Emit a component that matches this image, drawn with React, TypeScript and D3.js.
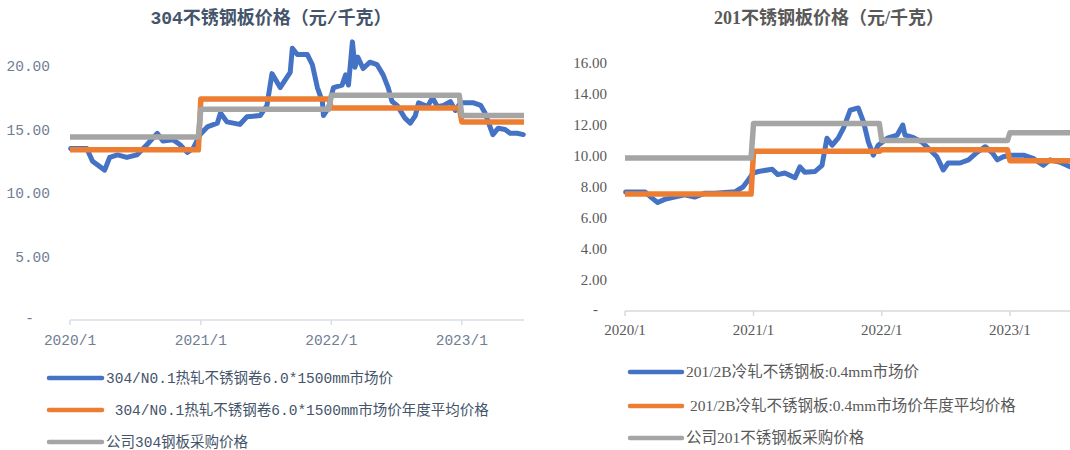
import React from 'react';
import * as d3 from 'd3';

// ---- data ----
const yearLabels = ['2020/1', '2021/1', '2022/1', '2023/1'];
const avgYears = [2020, 2021, 2022, 2023];

// 304 market price (元/千克)
const dates304 = [
  '2020-01-03', '2020-02-17', '2020-03-04', '2020-04-07', '2020-04-21', '2020-05-13', '2020-06-08',
  '2020-07-06', '2020-08-03', '2020-09-01', '2020-09-17', '2020-10-15', '2020-11-04', '2020-11-24',
  '2020-12-10', '2020-12-30', '2021-01-19', '2021-02-16', '2021-02-25', '2021-03-15', '2021-04-20',
  '2021-05-10', '2021-06-16', '2021-07-05', '2021-07-19', '2021-08-11', '2021-08-25', '2021-09-08',
  '2021-09-14', '2021-09-28', '2021-10-26', '2021-11-09', '2021-11-23', '2021-12-07', '2021-12-10',
  '2021-12-24', '2022-01-07', '2022-01-31', '2022-02-10', '2022-02-18', '2022-03-01', '2022-03-08',
  '2022-03-16', '2022-03-31', '2022-04-19', '2022-05-09', '2022-05-26', '2022-06-09', '2022-06-20',
  '2022-07-04', '2022-07-26', '2022-08-10', '2022-08-24', '2022-09-02', '2022-09-27', '2022-10-11',
  '2022-10-25', '2022-11-11', '2022-11-30', '2022-12-14', '2022-12-28', '2023-02-03', '2023-02-23',
  '2023-03-07', '2023-03-21', '2023-03-29', '2023-04-13', '2023-05-02', '2023-05-16', '2023-06-05',
  '2023-06-22',
];
const market304 = [
  13.5, 13.5, 12.5, 11.8, 12.8, 13.0, 12.8,
  13.0, 13.8, 14.7, 14.1, 14.2, 13.8, 13.2,
  13.5, 14.6, 15.2, 15.5, 16.3, 15.6, 15.4,
  16.0, 16.1, 16.9, 19.4, 18.3, 18.9, 19.5,
  21.4, 20.9, 20.9, 20.1, 18.3, 17.2, 16.1,
  16.7, 18.3, 18.5, 19.3, 18.5, 21.9, 19.9,
  20.7, 19.8, 20.3, 20.1, 19.3, 18.3, 17.2,
  16.9, 15.9, 15.5, 16.1, 17.1, 16.8, 17.5,
  16.8, 16.9, 17.2, 16.5, 17.1, 17.1, 16.9,
  16.3, 15.2, 14.6, 15.1, 15.0, 14.7, 14.7,
  14.6,
];
const avg304 = [13.4, 17.4, 16.7, 15.6];
const company304 = [14.4, 16.6, 17.7, 16.1];

// 201 market price (元/千克)
const dates201 = [
  '2020-01-03', '2020-02-27', '2020-03-17', '2020-04-03', '2020-04-23', '2020-05-21', '2020-06-19',
  '2020-07-17', '2020-08-16', '2020-09-13', '2020-10-12', '2020-11-10', '2020-12-02', '2020-12-17',
  '2020-12-31', '2021-01-15', '2021-02-23', '2021-03-11', '2021-03-31', '2021-04-29', '2021-05-13',
  '2021-05-27', '2021-06-25', '2021-07-15', '2021-07-29', '2021-08-13', '2021-08-30', '2021-09-14',
  '2021-10-03', '2021-10-26', '2021-11-10', '2021-11-24', '2021-12-08', '2021-12-22', '2022-01-17',
  '2022-02-14', '2022-03-02', '2022-03-08', '2022-03-31', '2022-04-25', '2022-05-18', '2022-06-07',
  '2022-06-25', '2022-07-09', '2022-08-12', '2022-09-05', '2022-09-30', '2022-10-23', '2022-11-12',
  '2022-11-26', '2022-12-13', '2023-01-03', '2023-02-09', '2023-03-08', '2023-04-06', '2023-04-25',
  '2023-05-24', '2023-06-21',
];
const market201 = [
  7.68, 7.68, 7.3, 7.0, 7.2, 7.35, 7.5,
  7.35, 7.6, 7.6, 7.65, 7.7, 8.0, 8.45,
  8.9, 9.0, 9.15, 8.8, 8.9, 8.6, 9.3,
  8.95, 9.0, 9.4, 11.15, 10.7, 11.15, 11.8,
  12.95, 13.1, 12.2, 10.9, 10.05, 10.7, 11.15,
  11.35, 12.0, 11.35, 11.2, 10.9, 10.4, 9.95,
  9.1, 9.55, 9.55, 9.75, 10.25, 10.6, 10.2,
  9.75, 9.95, 10.05, 10.05, 9.85, 9.4, 9.75,
  9.6, 9.3,
];
const avg201 = [7.55, 10.3, 10.4, 9.7];
const company201 = [9.87, 12.1, 11.0, 11.5];

const legend304 = [
  '304/N0.1热轧不锈钢卷6.0*1500mm市场价',
  ' 304/N0.1热轧不锈钢卷6.0*1500mm市场价年度平均价格',
  '公司304钢板采购价格',
];
const legend201 = [
  '201/2B冷轧不锈钢板:0.4mm市场价',
  ' 201/2B冷轧不锈钢板:0.4mm市场价年度平均价格',
  '公司201不锈钢板采购价格',
];

const BLUE = '#4472C4';
const ORANGE = '#ED7D31';
const GRAY = '#A5A5A5';
const parse = d3.timeParse('%Y-%m-%d');

const stepPoints = (values: number[], end: Date): [Date, number][] =>
  values.flatMap((v, i) => {
    const s = new Date(avgYears[i], 0, 1);
    const e = i < values.length - 1 ? new Date(avgYears[i], 11, 25) : end;
    return [[s, v], [e, v]] as [Date, number][];
  });

const Panel = ({ cfg }: { cfg: any }) => {
  const x = d3.scaleTime().domain([new Date(2020, 0, 1), cfg.endDate]).range([cfg.x0, cfg.x1]);
  const y = d3.scaleLinear().domain([0, cfg.yMax]).range([cfg.yZero, cfg.yZero - cfg.yMax * cfg.pxPerUnit]);
  const line = d3.line<[Date, number]>().x(d => x(d[0])).y(d => y(d[1]));

  const market: [Date, number][] = cfg.dates.map((d: string, i: number) => [parse(d), cfg.market[i]]);
  const avg = stepPoints(cfg.avg, cfg.endDate);
  const company = stepPoints(cfg.company, cfg.endDate);
  const yearTicks = avgYears.map(yr => new Date(yr, 0, 1));

  return (
    <g fontFamily={cfg.font}>
      <text x={cfg.titleX} y={24} textAnchor="middle" fontSize={18} fontWeight="bold" fill={cfg.titleColor}>
        {cfg.title}
      </text>

      {cfg.yTicks.map((t: number) => (
        <text key={t} x={cfg.yLabelX} y={y(t)} dy="0.35em" textAnchor="end" fontSize={cfg.tickSize} fill={cfg.tickColor}>
          {t.toFixed(2)}
        </text>
      ))}
      <text x={cfg.zeroX} y={y(0)} dy="0.2em" textAnchor="end" fontSize={cfg.tickSize} fill={cfg.tickColor}>-</text>

      <line x1={cfg.x0} x2={cfg.x1} y1={cfg.yZero} y2={cfg.yZero} stroke={cfg.axisColor} strokeWidth={1.5} />
      {yearTicks.map((d, i) => (
        <g key={i}>
          <line x1={x(d)} x2={x(d)} y1={cfg.yZero} y2={cfg.yZero + 5} stroke={cfg.axisColor} strokeWidth={1.5} />
          <text x={x(d)} y={cfg.xLabelY} textAnchor="middle" fontSize={cfg.tickSize} fill={cfg.tickColor}>
            {yearLabels[i]}
          </text>
        </g>
      ))}

      <path d={line(market) || ''} fill="none" stroke={BLUE} strokeWidth={5} strokeLinejoin="round" strokeLinecap="round" />
      <path d={line(avg) || ''} fill="none" stroke={ORANGE} strokeWidth={5.5} strokeLinejoin="round" />
      <path d={line(company) || ''} fill="none" stroke={GRAY} strokeWidth={5.5} strokeLinejoin="round" />

      {cfg.legend.map((label: string, i: number) => (
        <g key={i}>
          <line x1={cfg.legX0} x2={cfg.legX1} y1={cfg.legY[i]} y2={cfg.legY[i]} stroke={[BLUE, ORANGE, GRAY][i]} strokeWidth={4.5} strokeLinecap="round" />
          <text x={cfg.legX1 + 4} y={cfg.legY[i]} dy="0.35em" fontSize={cfg.legendSize} fill={cfg.legendColor} style={{ whiteSpace: 'pre' }}>
            {label}
          </text>
        </g>
      ))}
    </g>
  );
};

const leftCfg = {
  title: '304不锈钢板价格（元/千克）', titleX: 271, titleColor: '#44546A',
  font: "'Liberation Mono', 'Noto Sans CJK SC', monospace",
  x0: 70, x1: 524, endDate: new Date(2023, 5, 24),
  yZero: 320, pxPerUnit: 12.7, yMax: 25, yTicks: [5, 10, 15, 20],
  yLabelX: 50, zeroX: 34, xLabelY: 345, tickSize: 14.5, tickColor: '#6F7E93', axisColor: '#D9DEE6',
  dates: dates304, market: market304, avg: avg304, company: company304,
  legend: legend304, legX0: 49, legX1: 102, legY: [378, 410, 442], legendSize: 14.5, legendColor: '#44546A',
};

const rightCfg = {
  title: '201不锈钢板价格（元/千克）', titleX: 829, titleColor: '#595959',
  font: "'Liberation Serif', 'Noto Sans CJK SC', serif",
  x0: 625, x1: 1070, endDate: new Date(2023, 5, 21),
  yZero: 311, pxPerUnit: 15.5, yMax: 18, yTicks: [2, 4, 6, 8, 10, 12, 14, 16],
  yLabelX: 607, zeroX: 598, xLabelY: 335, tickSize: 15, tickColor: '#595959', axisColor: '#D9D9D9',
  dates: dates201, market: market201, avg: avg201, company: company201,
  legend: legend201, legX0: 630, legX1: 682, legY: [372, 406, 438], legendSize: 15.5, legendColor: '#595959',
};

export default function App() {
  return (
    <svg width={1070} height={450} style={{ position: 'absolute', left: 0, top: 0, background: '#fff' }}>
      <rect width={1070} height={450} fill="#fff" />
      <Panel cfg={leftCfg} />
      <Panel cfg={rightCfg} />
    </svg>
  );
}
